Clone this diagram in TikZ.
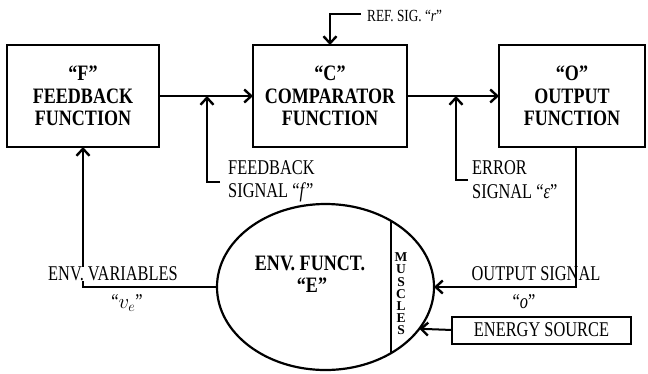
\documentclass[tikz,border=0pt]{standalone}
\usepackage{fontspec}
\setmainfont{Liberation Serif}
\newfontfamily\nf[FakeStretch=0.78]{Liberation Serif}
\newfontfamily\bxf[FakeStretch=0.82]{Liberation Serif}
\usetikzlibrary{arrows.meta,shapes.geometric}
\begin{document}
\begin{tikzpicture}[x=1pt,y=-1pt,
  fbox/.style={draw,line width=2.4pt,inner sep=0pt,outer sep=0pt,font=\bxf\bfseries\fontsize{22}{22.5}\selectfont,align=center},
  lbl/.style={font=\nf\fontsize{21}{24}\selectfont,inner sep=0pt,anchor=west},
  clbl/.style={font=\nf\fontsize{21}{24}\selectfont,inner sep=0pt},
  arr/.style={line width=2pt,-{Straight Barb[length=7pt,width=13pt,line width=2.4pt]}},
  ln/.style={line width=2pt}]
\useasboundingbox[fill=white] (0,0) rectangle (648,373);
% boxes
\node[fbox,minimum width=152,minimum height=102] (F) at (83,96) {“F”\\FEEDBACK\\FUNCTION};
\node[fbox,minimum width=154,minimum height=102] (C) at (330,96) {“C”\\COMPARATOR\\FUNCTION};
\node[fbox,minimum width=146,minimum height=102] (O) at (572,96) {“O”\\OUTPUT\\FUNCTION};
\node[draw,ellipse,line width=2.2pt,inner sep=0pt,outer sep=0pt,minimum width=217,minimum height=166] (E) at (325.5,287) {};
\node[draw,line width=2pt,inner sep=0pt,outer sep=0pt,minimum width=179,minimum height=27,font=\nf\fontsize{21}{24}\selectfont] (S) at (541.5,330) {ENERGY SOURCE};
% ellipse text
\node[font=\bxf\bfseries\fontsize{22}{22}\selectfont,inner sep=0pt] (et1) at (310,263) {ENV. FUNCT.};
\node[font=\bxf\bfseries\fontsize{22}{22}\selectfont,inner sep=0pt] (et2) at (312,285) {“E”};
\draw[ln] (E.45.3) -- (E.-45.3);
\node[font=\bfseries\fontsize{13.5}{12.2}\selectfont,align=center,inner sep=0pt] (mus) at (401,294) {M\\U\\S\\C\\L\\E\\S};
% junction coordinates
\coordinate (fj) at (207,96);
\coordinate (ej) at (456,96);
\coordinate (fs) at (220,182);
\coordinate (es) at (468,180);
\coordinate (rs) at (361,14);
% connectors
\draw[arr] (F.east) -- (C.west);
\draw[arr] (C.east) -- (O.west);
\draw[arr] (fs) -| (fj);
\draw[arr] (es) -| (ej);
\draw[arr] (rs) -| (C.north);
\draw[arr] ([xshift=4pt]O.south) |- (E.east);
\draw[arr] (E.west) -| (F.south);
\draw[arr] (S.west) -- (E.-24.86);
% labels
\node[lbl,font=\nf\fontsize{17}{20}\selectfont] (rl) at (367,16) {REF. SIG. “\textit{r}”};
\node[lbl] (fl1) at (228,168) {FEEDBACK};
\node[lbl] (fl2) at (228,192) {SIGNAL “\textit{f}”};
\node[lbl] (el1) at (472,168) {ERROR};
\node[lbl] (el2) at (472,192) {SIGNAL “\textit{ε}”};
\node[clbl,fill=white,inner xsep=1pt] (vl1) at (113,274) {ENV. VARIABLES};
\node[clbl] (vl2) at (127,303) {“$v_e$”};
\node[clbl] (ol1) at (536,274) {OUTPUT SIGNAL};
\node[clbl] (ol2) at (524,302) {“\textit{o}”};
\end{tikzpicture}
\end{document}
